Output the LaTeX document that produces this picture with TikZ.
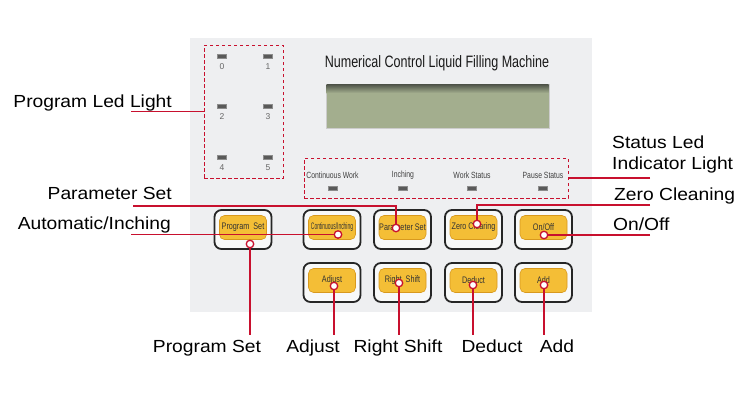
\documentclass[tikz,border=0pt]{standalone}
\usepackage{fontspec}
\usepackage{graphicx}
\setmainfont{Liberation Sans}
\newfontfamily\narrowfont[FakeStretch=0.76]{Liberation Sans}
\newfontfamily\labelfont[FakeStretch=1.1]{Liberation Sans}
\definecolor{lab}{HTML}{C8102E}
\definecolor{panel}{HTML}{EEEFF1}
\definecolor{btnyel}{HTML}{F4BE36}
\definecolor{btnedge}{HTML}{D8991E}
\definecolor{lcd}{HTML}{A3AE8E}
\definecolor{lcddark}{HTML}{50554A}
\begin{document}
\begin{tikzpicture}[x=1pt,y=-1pt,
 lbl/.style={font=\labelfont\fontsize{17.5}{21}\selectfont, text=black, inner sep=0},
 redline/.style={draw=lab, line width=1.1},
 marker/.style={circle, draw=lab, fill=white, line width=1.3, minimum size=7.5, inner sep=0},
 dbox/.style={draw=lab, line width=1, dash pattern=on 3.5pt off 2.5pt, inner sep=0},
 outerbtn/.style={draw=black!85, line width=1.8, rounded corners=7, fill=white!60!panel, minimum width=57, minimum height=39, inner sep=0},
 innerbtn/.style={fill=btnyel, draw=btnedge, line width=0.6, rounded corners=5, minimum width=47, minimum height=24, inner sep=0, font=\narrowfont\fontsize{9.5}{11}\selectfont, text=black!80},
 led/.style={fill=black!65, draw=black!45, line width=0.4, minimum width=9, minimum height=3.5, inner sep=0},
 ledtxt/.style={font=\fontsize{8.5}{9}\selectfont, text=black!60, inner sep=0},
 stattxt/.style={font=\narrowfont\fontsize{9}{10}\selectfont, text=black!75, inner sep=0}]
\useasboundingbox (0,0) rectangle (750,400);
\fill[white] (0,0) rectangle (750,400);
% panel
\fill[panel] (190,38) rectangle (592,312);
% title and LCD
\node[font=\narrowfont\fontsize{16.5}{18}\selectfont, text=black!90, inner sep=0] (title) at (437,63) {Numerical Control Liquid Filling Machine};
\draw[white!80!black, fill=lcd, line width=0.8] (326,84) rectangle (549,128);
\shade[top color=lcddark, bottom color=lcd] (326.5,84.5) rectangle (548.5,93);
% program LEDs
\node[dbox, minimum width=79, minimum height=133] (pledbox) at (243.5,111.5) {};
\node[led] (led0) at (222,56) {};  \node[ledtxt] (t0) at (222,67) {0};
\node[led] (led1) at (268,56) {};  \node[ledtxt] (t1) at (268,67) {1};
\node[led] (led2) at (222,106) {}; \node[ledtxt] (t2) at (222,117) {2};
\node[led] (led3) at (268,106) {}; \node[ledtxt] (t3) at (268,117) {3};
\node[led] (led4) at (222,157) {}; \node[ledtxt] (t4) at (222,168) {4};
\node[led] (led5) at (268,157) {}; \node[ledtxt] (t5) at (268,168) {5};
% status LEDs
\node[dbox, minimum width=264, minimum height=40] (statbox) at (436,178) {};
\node[stattxt] (sCW) at (332.5,175) {Continuous Work};
\node[stattxt] (sIn) at (403,175) {Inching};
\node[stattxt] (sWS) at (472,175) {Work Status};
\node[stattxt] (sPS) at (543,175) {Pause Status};
\node[led] (lCW) at (332.5,188) {};
\node[led] (lIn) at (403,188) {};
\node[led] (lWS) at (472,188) {};
\node[led] (lPS) at (543,188) {};
% buttons row 1
\node[outerbtn] (oProg) at (243,229.5) {};
\node[innerbtn] (bProg) at (243,227.5) {Program\ \ Set};
\node[outerbtn] (oCont) at (332,229.5) {};
\node[innerbtn] (bCont) at (332,227.5) {\scalebox{0.68}[1]{Continuous/Inching}};
\node[outerbtn] (oParam) at (402.5,229.5) {};
\node[innerbtn] (bParam) at (402.5,227.5) {Parameter Set};
\node[outerbtn] (oZero) at (473.5,229.5) {};
\node[innerbtn] (bZero) at (473.5,227.5) {Zero Clearing};
\node[outerbtn] (oOn) at (543.5,229.5) {};
\node[innerbtn] (bOn) at (543.5,227.5) {On/Off};
% buttons row 2
\node[outerbtn] (oAdj) at (332,282.5) {};
\node[innerbtn] (bAdj) at (332,280.5) {Adjust};
\node[outerbtn] (oRS) at (402.5,282.5) {};
\node[innerbtn] (bRS) at (402.5,280.5) {Right\ \ Shift};
\node[outerbtn] (oDed) at (473.5,282.5) {};
\node[innerbtn] (bDed) at (473.5,280.5) {Deduct};
\node[outerbtn] (oAdd) at (543.5,282.5) {};
\node[innerbtn] (bAdd) at (543.5,280.5) {Add};
% labels
\node[lbl, anchor=base east] (lPLed) at (172,107) {Program Led Light};
\node[lbl, anchor=base east] (lParam) at (172,199) {Parameter Set};
\node[lbl, anchor=base east] (lAuto) at (171,229) {Automatic/Inching};
\node[lbl, anchor=north west, align=left] (lStat) at (612,135.5) {Status Led\\Indicator Light};
\node[lbl, anchor=base west] (lZero) at (614,200) {Zero Cleaning};
\node[lbl, anchor=base west] (lOn) at (613,230) {On/Off};
\node[lbl, anchor=base] (lProg) at (207,352) {Program Set};
\node[lbl, anchor=base] (lAdj) at (313,352) {Adjust};
\node[lbl, anchor=base] (lRS) at (398,352) {Right Shift};
\node[lbl, anchor=base] (lDed) at (492,352) {Deduct};
\node[lbl, anchor=base] (lAdd) at (557,352) {Add};
% line ends
\coordinate (ePLed) at (131,111.5);
\coordinate (eParam) at (133,206);
\coordinate (eAuto) at (131,234.5);
\coordinate (eStat) at (650,178);
\coordinate (eZero) at (650,205);
\coordinate (eOn) at (650,235);
\coordinate (eProg) at (250,335);
\coordinate (eAdj) at (334,335);
\coordinate (eRS) at (399,335);
\coordinate (eDed) at (473,335);
\coordinate (eAdd) at (544,335);
% markers
\node[marker] (mProg) at (250,244) {};
\node[marker] (mCont) at (338,234.5) {};
\node[marker] (mParam) at (396,228) {};
\node[marker] (mZero) at (477,224) {};
\node[marker] (mOn) at (544,235) {};
\node[marker] (mAdj) at (334,286) {};
\node[marker] (mRS) at (399,283) {};
\node[marker] (mDed) at (473,285) {};
\node[marker] (mAdd) at (544,285) {};
% connectors
\draw[redline] (ePLed) -- (pledbox.west);
\draw[redline] (eStat) -- (statbox.east);
\draw[redline] (eParam) -| (mParam);
\draw[redline] (eAuto) -- (mCont);
\draw[redline] (eZero) -| (mZero);
\draw[redline] (eOn) -- (mOn);
\draw[redline] (mProg) -- (eProg);
\draw[redline] (mAdj) -- (eAdj);
\draw[redline] (mRS) -- (eRS);
\draw[redline] (mDed) -- (eDed);
\draw[redline] (mAdd) -- (eAdd);
\end{tikzpicture}
\end{document}
